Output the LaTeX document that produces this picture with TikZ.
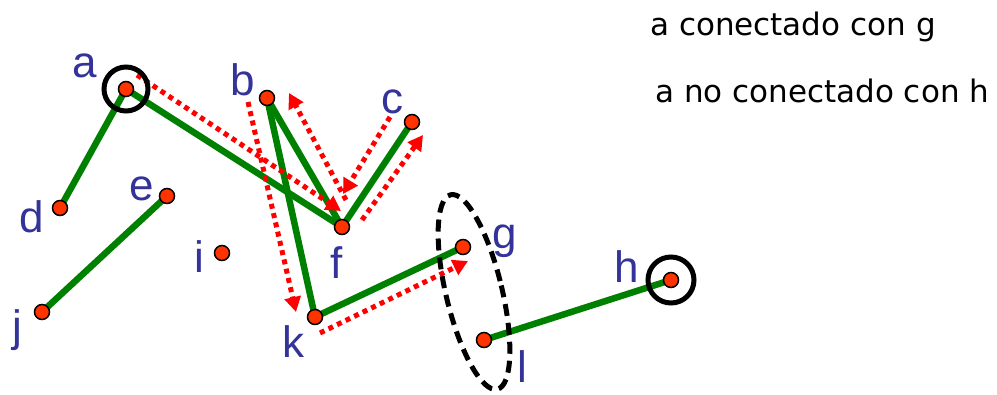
\documentclass[tikz,border=0pt]{standalone}
\usepackage{fontspec}
\setmainfont{Liberation Sans}
\newfontfamily\notefont{DejaVu Sans}
\usetikzlibrary{arrows.meta}
\definecolor{lblue}{HTML}{333399}
\definecolor{dotred}{HTML}{FF3300}
\definecolor{edgegreen}{HTML}{008000}
\begin{document}
\begin{tikzpicture}[x=1pt,y=-1pt,
  vtx/.style={circle,draw=black,line width=1.5pt,fill=dotred,minimum size=15pt,inner sep=0pt},
  lbl/.style={anchor=base,text=lblue,font=\fontsize{44}{44}\selectfont,inner sep=0pt},
  edge/.style={draw=edgegreen,line width=6.5pt},
  walk/.style={draw=red,line width=5pt,dash pattern=on 5pt off 4.5pt,-{Triangle[length=15pt,width=16pt,fill=red]}},
  ring/.style={draw=black,line width=5pt},
  note/.style={anchor=base west,inner sep=0pt,font=\notefont\fontsize{31}{31}\selectfont}]
\useasboundingbox (0,0) rectangle (997,394);
% vertices (coordinates)
\coordinate (a) at (126,89);
\coordinate (b) at (267,98);
\coordinate (c) at (412,122);
\coordinate (d) at (60,208);
\coordinate (e) at (167,196);
\coordinate (f) at (342,227);
\coordinate (g) at (463,247);
\coordinate (h) at (671,280);
\coordinate (i) at (222,253);
\coordinate (j) at (42,312);
\coordinate (k) at (315,317);
\coordinate (l) at (484,340);
% green edges
\draw[edge] (a) -- (d);
\draw[edge] (a) -- (f);
\draw[edge] (b) -- (f);
\draw[edge] (b) -- (k);
\draw[edge] (c) -- (f);
\draw[edge] (e) -- (j);
\draw[edge] (k) -- (g);
\draw[edge] (l) -- (h);
% walk arrows
\coordinate (w1s) at (137,75);
\coordinate (w1e) at (341,211);
\coordinate (w2s) at (248,102);
\coordinate (w2e) at (296,312);
\coordinate (w3s) at (346,200);
\coordinate (w3e) at (289,93);
\coordinate (w4s) at (390,117);
\coordinate (w4e) at (343,194);
\coordinate (w5s) at (362,220);
\coordinate (w5e) at (423,135);
\coordinate (w6s) at (320,333);
\coordinate (w6e) at (468,261);
\draw[walk] (w1s) -- (w1e);
\draw[walk] (w2s) -- (w2e);
\draw[walk] (w3s) -- (w3e);
\draw[walk] (w4s) -- (w4e);
\draw[walk] (w5s) -- (w5e);
\draw[walk] (w6s) -- (w6e);
% vertex dots
\foreach \v in {a,b,c,d,e,f,g,h,i,j,k,l}
  \node[vtx] (n\v) at (\v) {};
% rings
\draw[ring] (a) circle[radius=22];
\draw[ring] (h) circle[radius=23];
\draw[ring,dash pattern=on 12pt off 7pt] (474,292) ellipse[x radius=28,y radius=100,rotate=13.5];
% labels
\node[lbl] (la) at (85,77) {a};
\node[lbl] (lb) at (243,95) {b};
\node[lbl] (lc) at (392,113) {c};
\node[lbl] (ld) at (32,232) {d};
\node[lbl] (le) at (142,200) {e};
\node[lbl] (lf) at (337,278) {f};
\node[lbl] (lg) at (505,248) {g};
\node[lbl] (lh) at (627,282) {h};
\node[lbl] (li) at (199,272) {i};
\node[lbl] (lj) at (17,341) {j};
\node[lbl] (lk) at (293,357) {k};
\node[lbl] (ll) at (522,382) {l};
% notes
\node[note] (t1) at (650,35) {a conectado con g};
\node[note] (t2) at (655,102) {a no conectado con h};
\end{tikzpicture}
\end{document}
